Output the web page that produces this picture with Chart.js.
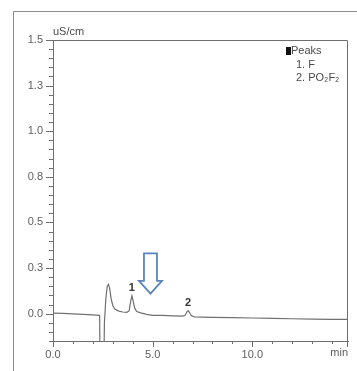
<!DOCTYPE html>
<html>
<head>
<meta charset="utf-8">
<script src="https://cdn.jsdelivr.net/npm/chart.js@4"></script>
<style>
  body { margin: 0; background: #fff; }
  canvas { display: block; }
</style>
</head>
<body>
<canvas id="chromCanvas" width="357" height="371"></canvas>
<script>
// retention time (min) and conductivity (uS/cm)
const times = [0.0, 0.5, 1.0, 1.5, 2.0, 2.3, 2.34, 2.36, 2.55, 2.58, 2.65, 2.72, 2.78, 2.84, 2.92, 3.0, 3.1, 3.3, 3.5, 3.7, 3.82, 3.9, 3.96, 4.02, 4.1, 4.2, 4.4, 4.7, 5.0, 5.5, 6.0, 6.5, 6.62, 6.72, 6.78, 6.85, 6.95, 7.1, 7.5, 8.0, 9.0, 10.0, 11.0, 12.0, 13.0, 14.0, 14.8];
const signal = [0.003, 0.001, -0.001, -0.004, -0.007, -0.010, -0.010, -0.30, -0.30, -0.05, 0.08, 0.15, 0.16, 0.14, 0.08, 0.045, 0.025, 0.014, 0.009, 0.007, 0.015, 0.07, 0.098, 0.07, 0.03, 0.012, 0.004, -0.004, -0.009, -0.010, -0.012, -0.014, -0.010, 0.010, 0.016, 0.006, -0.012, -0.018, -0.019, -0.020, -0.022, -0.024, -0.026, -0.028, -0.030, -0.031, -0.032];

const xTickValues = [0, 5, 10];
const xTickLabels = ['0.0', '5.0', '10.0'];
const yTickValues = [0, 0.25, 0.5, 0.75, 1.0, 1.25, 1.5];
const yTickLabels = ['0.0', '0.3', '0.5', '0.8', '1.0', '1.3', '1.5'];

const peakNames = ['1', '2'];
const peakTimes = [3.96, 6.78];
const peakHeights = [0.098, 0.016];
const legendLines = ['1. F', '2. PO\u2082F\u2082'];
const arrowAt = { x: 4.89, top: 0.33, base: 0.18, tip: 0.11 };

const axisGrey = '#6e6e6e';
const textGrey = '#5e5e5e';
const font = '"Liberation Sans", Arial, sans-serif';

const decorations = {
    id: 'decorations',
    beforeDraw(chart) {
        const c = chart.ctx;
        c.save();
        c.fillStyle = '#fff';
        c.fillRect(0, 0, chart.width, chart.height);
        // outer frame of the figure
        c.strokeStyle = '#8a8a8a';
        c.lineWidth = 1;
        c.beginPath();
        c.moveTo(13.5, chart.height);
        c.lineTo(13.5, 11.5);
        c.lineTo(chart.width, 11.5);
        c.stroke();
        c.restore();
    },
    afterDraw(chart) {
        const c = chart.ctx;
        const a = chart.chartArea;
        const xs = chart.scales.x;
        const ys = chart.scales.y;
        c.save();
        c.strokeStyle = axisGrey;
        c.lineWidth = 1;
        // top and right sides of the plot box
        c.beginPath();
        c.moveTo(a.left, a.top + 0.5);
        c.lineTo(a.right - 0.5, a.top + 0.5);
        c.lineTo(a.right - 0.5, a.bottom + 6);
        c.stroke();

        // tick marks: x every minute, y every 0.05
        c.beginPath();
        for (let t = 0; t <= 14; t++) {
            const px = Math.round(xs.getPixelForValue(t)) + 0.5;
            c.moveTo(px, a.bottom);
            c.lineTo(px, a.bottom + (t % 5 === 0 ? 6 : 3));
        }
        for (let k = -3; k <= 30; k++) {
            const py = Math.round(ys.getPixelForValue(k * 0.05)) + 0.5;
            c.moveTo(a.left, py);
            c.lineTo(a.left - (k % 5 === 0 ? 7 : 4), py);
        }
        c.stroke();

        // units
        c.fillStyle = '#4a4a4a';
        c.font = '11px ' + font;
        c.textBaseline = 'middle';
        c.textAlign = 'left';
        c.fillText('uS/cm', a.left, a.top - 8);
        c.fillStyle = textGrey;
        c.textAlign = 'right';
        c.fillText('min', a.right, a.bottom + 12);

        // legend
        c.fillStyle = '#111';
        c.fillRect(a.right - 62, a.top + 7, 5, 8);
        c.fillStyle = '#4a4a4a';
        c.textAlign = 'left';
        c.font = '11px ' + font;
        c.fillText('Peaks', a.right - 57, a.top + 11);
        legendLines.forEach((s, i) => {
            c.fillText(s, a.right - 52, a.top + 24.5 + i * 13.5);
        });

        // peak numbers
        c.fillStyle = '#333';
        c.font = 'bold 11px ' + font;
        c.textAlign = 'center';
        peakNames.forEach((n, i) => {
            c.fillText(n, xs.getPixelForValue(peakTimes[i]), ys.getPixelForValue(peakHeights[i]) - 8);
        });

        // hollow arrow
        const cx = xs.getPixelForValue(arrowAt.x);
        const yTop = ys.getPixelForValue(arrowAt.top);
        const yBase = ys.getPixelForValue(arrowAt.base);
        const yTip = ys.getPixelForValue(arrowAt.tip);
        c.beginPath();
        c.moveTo(cx - 6.5, yTop);
        c.lineTo(cx + 6.5, yTop);
        c.lineTo(cx + 6.5, yBase);
        c.lineTo(cx + 11.5, yBase);
        c.lineTo(cx, yTip);
        c.lineTo(cx - 11.5, yBase);
        c.lineTo(cx - 6.5, yBase);
        c.closePath();
        c.fillStyle = '#fff';
        c.fill();
        c.strokeStyle = '#5b84bd';
        c.lineWidth = 1.8;
        c.lineJoin = 'miter';
        c.stroke();
        c.restore();
    }
};

const ctxChrom = document.getElementById('chromCanvas').getContext('2d');
const chromChart = new Chart(ctxChrom, {
    type: 'line',
    data: {
        datasets: [{
            label: 'Conductivity',
            data: times.map((t, i) => ({ x: t, y: signal[i] })),
            borderColor: '#707070',
            borderWidth: 1.2,
            pointRadius: 0,
            tension: 0
        }]
    },
    options: {
        responsive: false,
        animation: false,
        layout: { padding: { top: 40, right: 9, left: 0, bottom: 0 } },
        plugins: {
            legend: { display: false },
            tooltip: { enabled: false }
        },
        scales: {
            x: {
                type: 'linear',
                min: 0,
                max: 14.8,
                grid: { display: false, drawTicks: false },
                border: { display: true, color: axisGrey, width: 1 },
                afterBuildTicks: (scale) => { scale.ticks = xTickValues.map(v => ({ value: v })); },
                afterFit: (scale) => { scale.height = 30; },
                ticks: {
                    padding: 7,
                    maxRotation: 0,
                    autoSkip: false,
                    color: textGrey,
                    font: { family: font, size: 11 },
                    callback: (v) => xTickLabels[xTickValues.indexOf(v)]
                }
            },
            y: {
                min: -0.15,
                max: 1.5,
                grid: { display: false, drawTicks: false },
                border: { display: true, color: axisGrey, width: 1 },
                afterBuildTicks: (scale) => { scale.ticks = yTickValues.map(v => ({ value: v })); },
                afterFit: (scale) => { scale.width = 53; },
                ticks: {
                    padding: 10,
                    autoSkip: false,
                    color: textGrey,
                    font: { family: font, size: 11 },
                    callback: (v) => yTickLabels[yTickValues.indexOf(v)]
                }
            }
        }
    },
    plugins: [decorations]
});
</script>
</body>
</html>
